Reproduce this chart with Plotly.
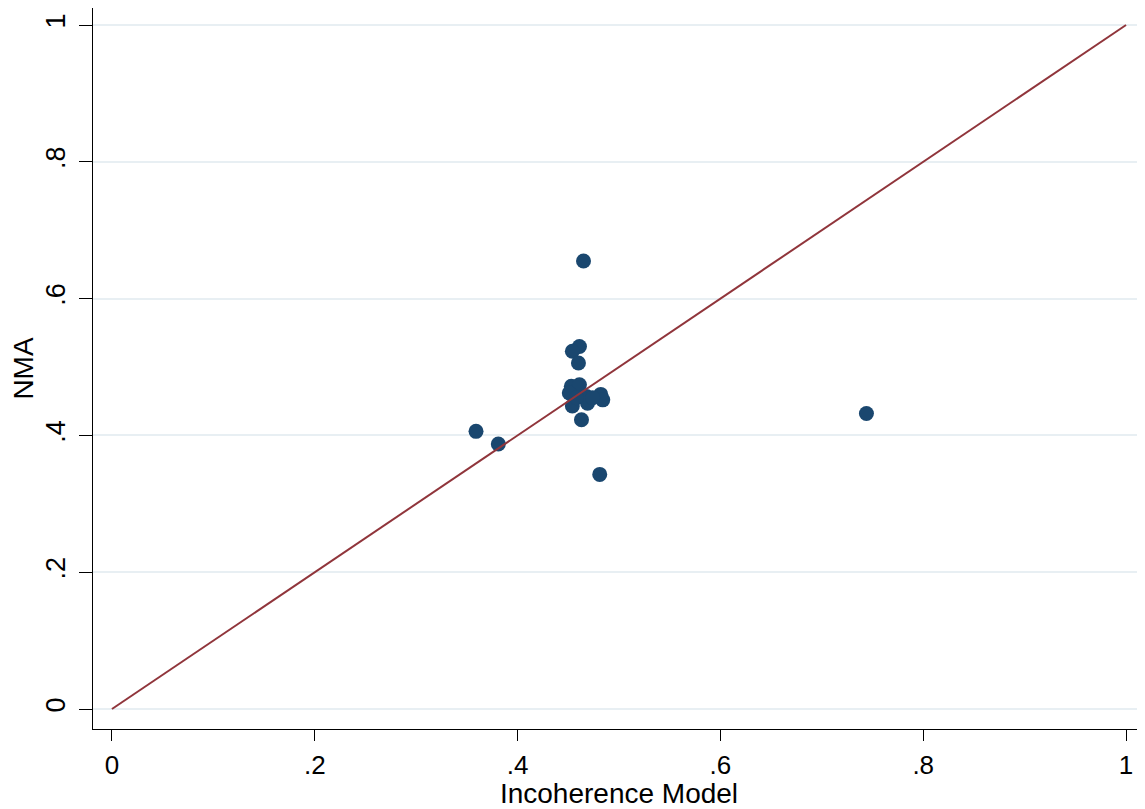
import plotly.graph_objects as go

# Data
incoherence = [0.465, 0.359, 0.381, 0.481, 0.461, 0.454, 0.460, 0.463, 0.453, 0.461,
               0.451, 0.454, 0.469, 0.482, 0.484, 0.468, 0.474, 0.458, 0.744]
nma = [0.655, 0.406, 0.3875, 0.343, 0.530, 0.523, 0.506, 0.423, 0.472, 0.474,
       0.462, 0.443, 0.447, 0.460, 0.452, 0.457, 0.455, 0.455, 0.432]
line_x = [0, 1]
line_y = [0, 1]
x_ticks = [0, 0.2, 0.4, 0.6, 0.8, 1]
x_tick_labels = ["0", ".2", ".4", ".6", ".8", "1"]
y_ticks = [0, 0.2, 0.4, 0.6, 0.8, 1]
y_tick_labels = ["0", ".2", ".4", ".6", ".8", "1"]

FONT = "Liberation Sans, Arial, sans-serif"

fig = go.Figure()
fig.add_trace(go.Scatter(
    x=incoherence, y=nma, mode="markers",
    marker=dict(color="#1a476f", size=15, line=dict(width=0)),
    showlegend=False,
))
fig.add_trace(go.Scatter(
    x=line_x, y=line_y, mode="lines",
    line=dict(color="#90353b", width=2),
    showlegend=False,
))

fig.update_layout(
    width=1137, height=801,
    margin=dict(l=85, r=0, t=0, b=80),
    paper_bgcolor="white", plot_bgcolor="white",
    font=dict(family=FONT, color="black", size=27),
)
fig.update_xaxes(
    range=[-0.0187, 1.0187],
    tickvals=x_ticks, ticktext=x_tick_labels,
    ticks="outside", ticklen=11, tickwidth=1.3, tickcolor="black",
    showline=True, linecolor="black", linewidth=1.3,
    showgrid=False, zeroline=False, automargin=False,
    tickfont=dict(size=26), ticklabelstandoff=2,
    title=dict(text="Incoherence Model", font=dict(size=28), standoff=0),
)
fig.update_yaxes(
    range=[-0.0292, 1.0249],
    tickvals=y_ticks, ticktext=y_tick_labels,
    ticks="outside", ticklen=13, tickwidth=1.3, tickcolor="black",
    showline=True, linecolor="black", linewidth=1.3,
    showgrid=True, gridcolor="#e8eff3", gridwidth=1.6, zeroline=False,
    automargin=False,
    tickangle=-90, tickfont=dict(size=27), ticklabelstandoff=3,
    title=dict(text="NMA", font=dict(size=28), standoff=4),
)

fig.write_html("out.html")
